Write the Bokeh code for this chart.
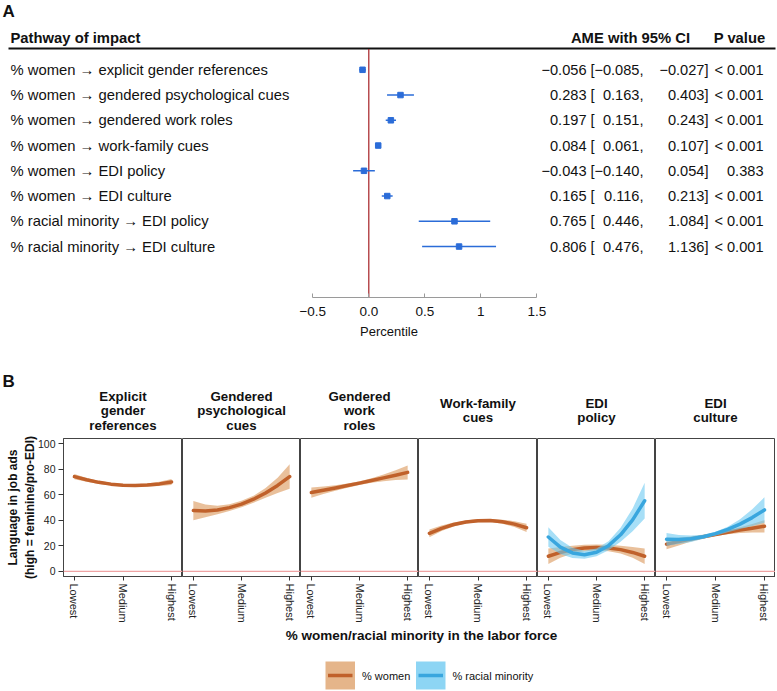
from bokeh.plotting import figure
from bokeh.layouts import column, row
from bokeh.models import Range1d, FixedTicker, LinearAxis, Span
from bokeh.core.properties import value
from bokeh.embed import file_html
from bokeh.resources import INLINE

# ---------------- data: panel A ----------------
pathways = [
    "% women \u2192 explicit gender references",
    "% women \u2192 gendered psychological cues",
    "% women \u2192 gendered work roles",
    "% women \u2192 work-family cues",
    "% women \u2192 EDI policy",
    "% women \u2192 EDI culture",
    "% racial minority \u2192 EDI policy",
    "% racial minority \u2192 EDI culture",
]
ame = [-0.056, 0.283, 0.197, 0.084, -0.043, 0.165, 0.765, 0.806]
ci_low = [-0.085, 0.163, 0.151, 0.061, -0.140, 0.116, 0.446, 0.476]
ci_high = [-0.027, 0.403, 0.243, 0.107, 0.054, 0.213, 1.084, 1.136]
p_values = ["< 0.001", "< 0.001", "< 0.001", "< 0.001", "0.383", "< 0.001", "< 0.001", "< 0.001"]
forest_ticks = [-0.5, 0, 0.5, 1, 1.5]
forest_tick_labels = ["\u22120.5", "0.0", "0.5", "1", "1.5"]

# ---------------- data: panel B ----------------
panel_titles = [
    ["Explicit", "gender", "references"],
    ["Gendered", "psychological", "cues"],
    ["Gendered", "work", "roles"],
    ["Work-family", "cues"],
    ["EDI", "policy"],
    ["EDI", "culture"],
]
level_ticks = [1, 2, 3]
level_labels = ["Lowest", "Medium", "Highest"]
y_ticks = [0, 20, 40, 60, 80, 100]
position = [1.0, 1.25, 1.5, 1.75, 2.0, 2.25, 2.5, 2.75, 3.0]

explicit_w = [74.2, 71.7, 69.7, 68.3, 67.5, 67.3, 67.6, 68.5, 70.0]
explicit_w_ci = [2.0, 1.5, 1.2, 1.0, 1.0, 1.0, 1.2, 1.6, 2.3]
psych_w = [47.6, 47.3, 48.1, 49.9, 52.7, 56.5, 61.4, 67.3, 74.2]
psych_w_ci = [7.5, 5.0, 3.3, 2.6, 2.5, 2.7, 3.8, 6.0, 9.6]
roles_w = [61.7, 63.5, 65.3, 67.2, 69.1, 71.1, 73.2, 75.3, 77.5]
roles_w_ci = [4.0, 3.0, 2.2, 1.7, 1.5, 1.8, 2.6, 3.8, 5.5]
wf_w = [29.7, 33.7, 36.7, 38.7, 39.7, 39.8, 38.9, 37.0, 34.1]
wf_w_ci = [3.0, 2.2, 1.5, 1.2, 1.2, 1.2, 1.6, 2.3, 3.2]
policy_w = [11.8, 14.8, 17.0, 18.3, 18.7, 18.3, 17.0, 14.8, 11.8]
policy_w_ci = [6.0, 4.2, 3.0, 2.5, 2.4, 2.5, 3.0, 4.2, 6.0]
policy_r = [26.9, 19.0, 14.4, 13.0, 14.9, 20.1, 28.6, 40.3, 55.3]
policy_r_ci = [7.7, 5.5, 4.0, 3.2, 3.0, 3.5, 5.5, 9.0, 14.0]
culture_w = [21.3, 23.3, 25.3, 27.1, 28.9, 30.6, 32.3, 33.8, 35.3]
culture_w_ci = [4.0, 3.0, 2.0, 1.5, 1.3, 1.6, 2.3, 3.3, 4.8]
culture_r = [25.1, 24.9, 25.5, 27.1, 29.5, 32.8, 37.0, 42.1, 48.1]
culture_r_ci = [5.0, 3.5, 2.5, 1.6, 1.5, 2.2, 3.8, 6.5, 10.0]

women_series = [
    (explicit_w, explicit_w_ci), (psych_w, psych_w_ci), (roles_w, roles_w_ci),
    (wf_w, wf_w_ci), (policy_w, policy_w_ci), (culture_w, culture_w_ci),
]
minority_series = [None, None, None, None, (policy_r, policy_r_ci), (culture_r, culture_r_ci)]
legend_labels = ["% women", "% racial minority"]

# ---------------- styling / layout ----------------
FONT = "Liberation Sans"
W = 777
ORANGE = "#C0612B"
ORANGE_FILL = "#E5B58A"
BLUE = "#39A6DE"
BLUE_FILL = "#6CCAF2"
POINT_BLUE = "#2B6CD8"


def txt(p, x, y, t, size, align="left", bold=False, color="#111111", baseline="middle"):
    p.text(x=x, y=y, text=t, text_font=value(FONT), text_font_size=size,
           text_font_style="bold" if bold else "normal", text_align=align,
           text_baseline=baseline, text_color=color)


def bare(p):
    p.xgrid.visible = False
    p.ygrid.visible = False
    p.outline_line_color = None
    p.background_fill_color = "white"
    p.border_fill_color = "white"


# ---------- Panel A ----------
A_H = 350
A_FRAME_H = 297
ZERO_X = 368.3
UNIT = 112.0
ROW0 = 69.3
ROW_STEP = 25.25


def fx(px):
    return (px - ZERO_X) / UNIT


def fy(py):
    return (py - ROW0) / ROW_STEP


figA = figure(width=W, height=A_H, output_backend="svg", toolbar_location=None,
              x_range=Range1d(fx(0), fx(W)), y_range=Range1d(fy(A_FRAME_H), fy(0)),
              x_axis_location=None, y_axis_location=None,
              min_border_left=0, min_border_right=0, min_border_top=0, min_border_bottom=A_H - A_FRAME_H)
bare(figA)

ax = LinearAxis(bounds=(-0.5, 1.5), ticker=FixedTicker(ticks=forest_ticks),
                major_label_overrides={t: l for t, l in zip(forest_ticks, forest_tick_labels)})
ax.axis_line_color = "#9a9a9a"
ax.major_tick_line_color = "#9a9a9a"
ax.major_tick_in = 4
ax.major_tick_out = 0
ax.minor_tick_line_color = None
ax.major_label_standoff = 9
ax.major_label_text_font = FONT
ax.major_label_text_font_size = "13.5px"
ax.major_label_text_color = "#111111"
ax.axis_label = "Percentile"
ax.axis_label_text_font = FONT
ax.axis_label_text_font_size = "13px"
ax.axis_label_text_font_style = "normal"
ax.axis_label_text_color = "#111111"
ax.axis_label_standoff = 5
figA.add_layout(ax, "below")

rows_y = list(range(len(pathways)))
figA.segment(x0=[fx(8)], x1=[fx(775)], y0=[fy(48)], y1=[fy(48)], line_color="#111111", line_width=1.8)
figA.segment(x0=[0], x1=[0], y0=[fy(48.5)], y1=[fy(A_FRAME_H)], line_color="#A52025", line_width=1.2)
figA.segment(x0=ci_low, x1=ci_high, y0=rows_y, y1=rows_y, line_color=POINT_BLUE, line_width=1.5)
figA.scatter(x=ame, y=rows_y, marker="square", size=5.5, fill_color=POINT_BLUE, line_color=POINT_BLUE)

txt(figA, [fx(2)], [fy(10.5)], ["A"], "17px", bold=True)
txt(figA, [fx(10)], [fy(37)], ["Pathway of impact"], "14.8px", bold=True)
txt(figA, [fx(630)], [fy(37)], ["AME with 95% CI"], "14.8px", align="center", bold=True)
txt(figA, [fx(765)], [fy(37)], ["P value"], "14.8px", align="right", bold=True)


def fmt(v):
    return f"{v:.3f}".replace("-", "\u2212")


n = len(rows_y)
txt(figA, [fx(10)] * n, rows_y, pathways, "14.8px")
txt(figA, [fx(586)] * n, rows_y, [fmt(v) for v in ame], "14.6px", align="right")
txt(figA, [fx(590)] * n, rows_y, ["["] * n, "14.6px")
txt(figA, [fx(643)] * n, rows_y, [fmt(v) + "," for v in ci_low], "14.6px", align="right")
txt(figA, [fx(708)] * n, rows_y, [fmt(v) + "]" for v in ci_high], "14.6px", align="right")
txt(figA, [fx(763)] * n, rows_y, p_values, "14.6px", align="right")

# ---------- Panel B titles ----------
T_TOP = A_H
T_H = 82
figT = figure(width=W, height=T_H, output_backend="svg", toolbar_location=None,
              x_range=Range1d(0, W), y_range=Range1d(T_H, 0),
              x_axis_location=None, y_axis_location=None, min_border=0)
bare(figT)
txt(figT, [2], [381 - T_TOP], ["B"], "17px", bold=True)

edges = [63, 182, 300, 418, 537, 655, 775]   # facet frame edges (page px)
centers = [(edges[i] + edges[i + 1]) / 2 for i in range(6)]
for c, lines in zip(centers, panel_titles):
    k = len(lines)
    ys = [410 - T_TOP + 14.5 * (j - (k - 1) / 2) for j in range(k)]
    txt(figT, [c] * k, ys, lines, "13.3px", align="center", bold=True)

# ---------- Panel B facets ----------
F_TOP = 6
F_FRAME = 141
F_BOTTOM = 46
F_H = F_TOP + F_FRAME + F_BOTTOM
facets = []
for i in range(6):
    left = edges[0] if i == 0 else 0
    width = (edges[i + 1] - edges[i]) + left
    p = figure(width=width, height=F_H, output_backend="svg", toolbar_location=None,
               x_range=Range1d(0.775, 3.225), y_range=Range1d(-4.06, 104.06),
               y_axis_location="left" if i == 0 else None,
               min_border_left=left, min_border_right=0, min_border_top=F_TOP, min_border_bottom=F_BOTTOM)
    p.xgrid.visible = False
    p.ygrid.visible = False
    p.outline_line_color = "#444444"
    p.outline_line_width = 1
    p.border_fill_color = "white"

    xa = p.xaxis[0]
    xa.ticker = FixedTicker(ticks=level_ticks)
    xa.major_label_overrides = {t: l for t, l in zip(level_ticks, level_labels)}
    xa.major_label_orientation = "vertical"
    xa.major_label_text_font = FONT
    xa.major_label_text_font_size = "11px"
    xa.major_label_text_color = "#222222"
    xa.axis_line_color = "#444444"
    xa.major_tick_line_color = "#333333"
    xa.major_tick_in = 0
    xa.major_tick_out = 4
    xa.major_label_standoff = 3
    xa.minor_tick_line_color = None

    if i == 0:
        ya = p.yaxis[0]
        ya.ticker = FixedTicker(ticks=y_ticks)
        ya.major_label_text_font = FONT
        ya.major_label_text_font_size = "10.5px"
        ya.major_label_text_color = "#222222"
        ya.axis_line_color = "#444444"
        ya.major_tick_line_color = "#333333"
        ya.major_tick_in = 0
        ya.major_tick_out = 5
        ya.major_label_standoff = 3
        ya.minor_tick_line_color = None
        ya.axis_label = "Language in job ads\n(high = feminine/pro-EDI)"
        ya.axis_label_text_font = FONT
        ya.axis_label_text_font_size = "12px"
        ya.axis_label_text_font_style = "bold"
        ya.axis_label_text_color = "#111111"
        ya.axis_label_standoff = -2

    p.add_layout(Span(location=0, dimension="width", line_color="#EFA3A3", line_width=1.3))

    fit, ci = women_series[i]
    p.varea(x=position, y1=[f - c for f, c in zip(fit, ci)], y2=[f + c for f, c in zip(fit, ci)],
            fill_color=ORANGE_FILL, fill_alpha=0.85)
    p.line(x=position, y=fit, line_color=ORANGE, line_width=3.5, line_join="round", line_cap="round")
    if minority_series[i] is not None:
        fit, ci = minority_series[i]
        p.varea(x=position, y1=[f - c for f, c in zip(fit, ci)], y2=[f + c for f, c in zip(fit, ci)],
                fill_color=BLUE_FILL, fill_alpha=0.6)
        p.line(x=position, y=fit, line_color=BLUE, line_width=3.5, line_join="round", line_cap="round")
    facets.append(p)

# ---------- x title + legend ----------
L_TOP = A_H + T_H + F_H
L_H = 690 - L_TOP
figL = figure(width=W, height=L_H, output_backend="svg", toolbar_location=None,
              x_range=Range1d(0, W), y_range=Range1d(L_H, 0),
              x_axis_location=None, y_axis_location=None, min_border=0)
bare(figL)
txt(figL, [421], [635 - L_TOP], ["% women/racial minority in the labor force"], "13.5px",
    align="center", bold=True)
key_left = [325, 415.5]
key_w = 29.5
fills = [ORANGE_FILL, "#8DD5F4"]
lines_c = [ORANGE, BLUE]
for kl, fc, lc, lab in zip(key_left, fills, lines_c, legend_labels):
    figL.quad(left=[kl], right=[kl + key_w], top=[661 - L_TOP], bottom=[689 - L_TOP],
              fill_color=fc, line_color=None)
    figL.segment(x0=[kl + 2.5], x1=[kl + key_w - 2.5], y0=[675 - L_TOP], y1=[675 - L_TOP],
                 line_color=lc, line_width=3.5)
    txt(figL, [kl + key_w + 7], [675 - L_TOP], [lab], "11px")

layout = column(figA, figT, row(*facets, spacing=0), figL, spacing=0)

with open("out.html", "w") as f:
    f.write(file_html(layout, INLINE))
